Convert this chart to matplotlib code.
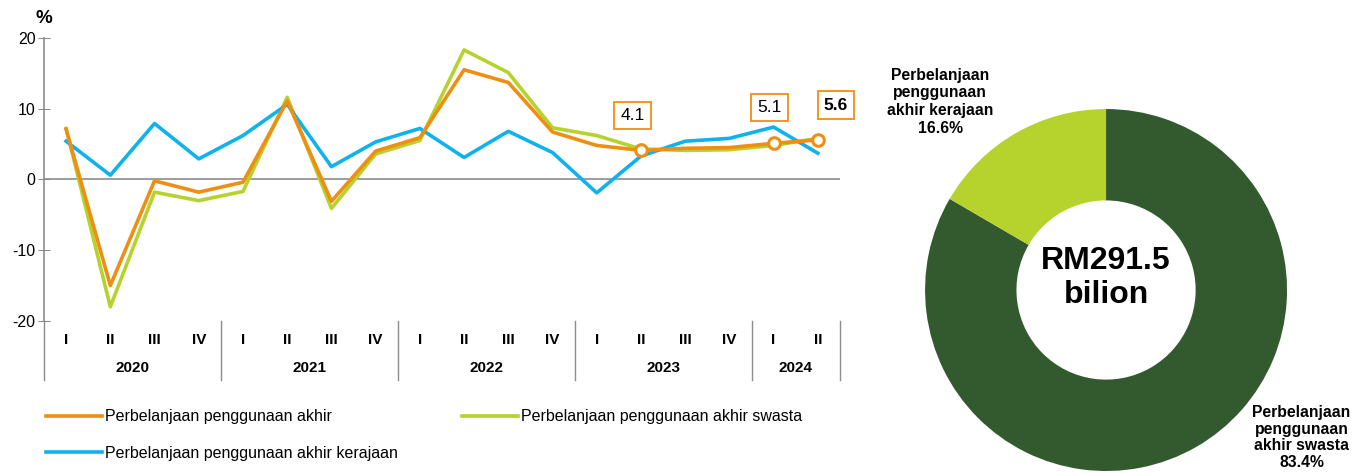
import numpy as np
import matplotlib.pyplot as plt
import matplotlib.transforms as mtransforms

plt.rcParams['font.family'] = ['Liberation Sans', 'DejaVu Sans']
plt.rcParams['axes.unicode_minus'] = False

# Quarterly growth (%), Q1 2020 .. Q2 2024
quarters = ['I', 'II', 'III', 'IV'] * 4 + ['I', 'II']
years = ['2020', '2021', '2022', '2023', '2024']
year_len = [4, 4, 4, 4, 2]
total = [7.1, -15.0, -0.2, -1.8, -0.4, 11.1, -3.1, 4.0, 5.9, 15.5, 13.7, 6.7, 4.8, 4.1, 4.4, 4.5, 5.1, 5.6]
private = [7.2, -18.0, -1.8, -3.0, -1.7, 11.6, -4.1, 3.6, 5.5, 18.3, 15.1, 7.3, 6.2, 4.3, 4.1, 4.2, 4.8, 5.8]
government = [5.4, 0.6, 7.9, 2.9, 6.2, 10.6, 1.8, 5.3, 7.2, 3.1, 6.8, 3.8, -1.9, 3.3, 5.4, 5.8, 7.4, 3.7]
labelled = {13: '4.1', 16: '5.1', 17: '5.6'}

shares = [83.4, 16.6]
share_labels = ['Perbelanjaan\npenggunaan\nakhir swasta\n83.4%',
                'Perbelanjaan\npenggunaan\nakhir kerajaan\n16.6%']
centre_text = 'RM291.5\nbilion'

orange = '#ef8f12'
lime = '#b5d22d'
blue = '#0fb2ec'
dark = '#335a2f'
grey = '#8c8c8c'

fig = plt.figure(figsize=(13.66, 4.74), dpi=100)

# ---- line chart ----
ax = fig.add_axes([0.0322, 0.323, 0.5827, 0.597])
x = np.arange(len(quarters))
l1, = ax.plot(x, total, color=orange, lw=2.6, label='Perbelanjaan penggunaan akhir', zorder=3)
l2, = ax.plot(x, private, color=lime, lw=2.6, label='Perbelanjaan penggunaan akhir swasta', zorder=2)
l3, = ax.plot(x, government, color=blue, lw=2.6, label='Perbelanjaan penggunaan akhir kerajaan', zorder=2)

mx = list(labelled.keys())
ax.scatter(mx, [total[i] for i in mx], s=70, facecolor='white', edgecolor=orange, linewidth=2.2, zorder=4)
offsets = {13: (-6, 25), 16: (-3, 26), 17: (13, 25)}
for i, txt in labelled.items():
    dx, dy = offsets[i]
    ax.annotate(txt, (x[i], total[i]), xytext=(dx, dy), textcoords='offset points',
                ha='center', va='center', fontsize=12.5,
                fontweight='bold' if i == 17 else 'normal',
                bbox=dict(boxstyle='square,pad=0.35', fc='white', ec=orange, lw=1.3), zorder=5)

ax.axhline(0, color=grey, lw=1.2, zorder=1)
ax.set_xlim(-0.5, len(quarters) - 0.5)
ax.set_ylim(-20, 20)
ax.set_yticks([-20, -10, 0, 10, 20])
ax.tick_params(axis='y', direction='inout', length=8, color=grey, labelsize=11.5, pad=2)
for s in ['top', 'right', 'bottom']:
    ax.spines[s].set_visible(False)
ax.spines['left'].set_color(grey)
ax.spines['left'].set_linewidth(1.2)

ax.set_xticks(x)
ax.set_xticklabels(quarters, fontweight='bold', fontsize=11)
ax.tick_params(axis='x', length=0, pad=9)

trans = mtransforms.blended_transform_factory(ax.transData, ax.transAxes)
start = -0.5
bounds = [start]
for yr, n in zip(years, year_len):
    ax.text(start + n / 2, -0.165, yr, transform=trans, ha='center', va='center',
            fontsize=11, fontweight='bold')
    start += n
    bounds.append(start)
for b in bounds:
    ax.plot([b, b], [0, -0.21], transform=trans, color=grey, lw=1, clip_on=False)

ax.text(-0.5, 1.04, '%', transform=trans, ha='center', va='bottom', fontsize=13.5, fontweight='bold')

ax.legend([l1, l3, l2], [l1.get_label(), l3.get_label(), l2.get_label()],
          loc='upper left', bbox_to_anchor=(-0.005, -0.29), ncol=2, frameon=False,
          fontsize=11.5, handlelength=3.5, handletextpad=0.2, columnspacing=4.0,
          labelspacing=1.35, borderaxespad=0)

# ---- donut ----
ax2 = fig.add_axes([0.6772, 0.0063, 0.265, 0.7637])
ax2.pie(shares, colors=[dark, lime], startangle=90, counterclock=False,
        radius=1, wedgeprops=dict(width=0.505, edgecolor='none'))
ax2.set_xlim(-1, 1)
ax2.set_ylim(-1, 1)
ax2.set_aspect('equal')
ax2.text(0, 0.066, centre_text, ha='center', va='center', fontsize=23, fontweight='bold', linespacing=1.15)
ax2.text(-0.917, 1.04, share_labels[1], ha='center', va='center', fontsize=11.3, fontweight='bold',
         linespacing=1.22, clip_on=False)
ax2.text(1.08, -0.815, share_labels[0], ha='center', va='center', fontsize=11.3, fontweight='bold',
         linespacing=1.15, clip_on=False)

fig.savefig('out.png', dpi=100)
